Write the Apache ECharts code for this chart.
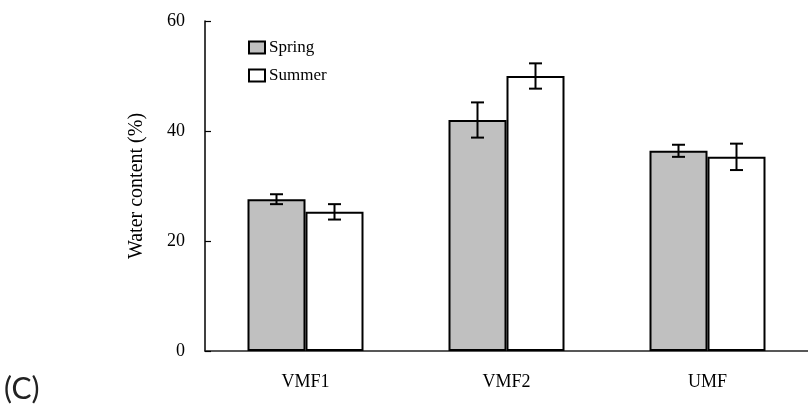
<!DOCTYPE html>
<html>
<head>
<meta charset="utf-8">
<script src="https://cdn.jsdelivr.net/npm/echarts@6/dist/echarts.min.js"></script>
<style>
  html, body { margin: 0; padding: 0; background: #fff; }
  #chart { width: 808px; height: 408px; }
</style>
</head>
<body>
<div id="chart"></div>
<script>
// Sites and seasonal water content (mean ± SE)
const categories = ['VMF1', 'VMF2', 'UMF'];
const seasons = ['Spring', 'Summer'];
const springValues = [27.6, 42.0, 36.4];
const springErrors = [0.9, 3.2, 1.1];
const summerValues = [25.3, 50.0, 35.3];
const summerErrors = [1.4, 2.3, 2.4];
const yTicks = [0, 20, 40, 60];

const BAR_W = 58;
const CAP_W = 13;
const SERIF = '"Liberation Serif", "Times New Roman", serif';

// rows: [category index, low, high, side (-1 left bar, +1 right bar)]
function errorRows(values, errors, side) {
  return values.map((v, i) => [i, v - errors[i], v + errors[i], side]);
}

function renderErrorBar(params, api) {
  const side = api.value(3);
  const lo = api.coord([api.value(0), api.value(1)]);
  const hi = api.coord([api.value(0), api.value(2)]);
  const x = lo[0] + side * BAR_W / 2;
  const style = { stroke: '#000', lineWidth: 2 };
  return {
    type: 'group',
    children: [
      { type: 'line', shape: { x1: x, y1: lo[1], x2: x, y2: hi[1] }, style },
      { type: 'line', shape: { x1: x - CAP_W / 2, y1: hi[1], x2: x + CAP_W / 2, y2: hi[1] }, style },
      { type: 'line', shape: { x1: x - CAP_W / 2, y1: lo[1], x2: x + CAP_W / 2, y2: lo[1] }, style }
    ]
  };
}

const chart = echarts.init(document.getElementById('chart'), null, { renderer: 'canvas' });

chart.setOption({
  backgroundColor: '#fff',
  animation: false,
  graphic: [{
    type: 'text',
    left: 4,
    top: 374,
    style: { text: '(C)', font: '400 30px Lato, "Open Sans", sans-serif', fill: '#222' }
  }],
  legend: {
    orient: 'vertical',
    left: 243,
    top: 34,
    itemWidth: 16,
    itemHeight: 12,
    itemGap: 11,
    selectedMode: false,
    data: seasons.map(s => ({ name: s, icon: 'rect' })),
    textStyle: { fontFamily: SERIF, fontSize: 17, color: '#000', padding: [0, 0, 0, -1] }
  },
  grid: { left: 205, top: 21, width: 611, height: 330, containLabel: false },
  xAxis: {
    type: 'category',
    data: categories,
    boundaryGap: true,
    axisLine: { lineStyle: { color: '#222', width: 1.5 } },
    axisTick: { inside: true, length: 4, lineStyle: { color: '#222', width: 1 } },
    axisLabel: { fontFamily: SERIF, fontSize: 18, color: '#000', margin: 22 },
    splitLine: { show: false }
  },
  yAxis: {
    type: 'value',
    min: yTicks[0],
    max: yTicks[yTicks.length - 1],
    interval: yTicks[1] - yTicks[0],
    name: 'Water content (%)',
    nameLocation: 'middle',
    nameGap: 58,
    nameRotate: 90,
    nameTextStyle: { fontFamily: SERIF, fontSize: 20, color: '#000' },
    axisLine: { show: true, lineStyle: { color: '#000', width: 1.5 } },
    axisTick: { show: true, inside: true, length: 6, lineStyle: { color: '#000', width: 1.2 } },
    axisLabel: { fontFamily: SERIF, fontSize: 18, color: '#000', margin: 20 },
    splitLine: { show: false }
  },
  series: [
    {
      name: seasons[0],
      type: 'bar',
      data: springValues,
      barWidth: BAR_W,
      barGap: '0%',
      itemStyle: { color: '#c0c0c0', borderColor: '#000', borderWidth: 2 }
    },
    {
      name: seasons[1],
      type: 'bar',
      data: summerValues,
      barWidth: BAR_W,
      barGap: '0%',
      itemStyle: { color: '#fff', borderColor: '#000', borderWidth: 2 }
    },
    {
      type: 'custom',
      renderItem: renderErrorBar,
      data: errorRows(springValues, springErrors, -1).concat(errorRows(summerValues, summerErrors, 1)),
      encode: { x: 0, y: [1, 2] },
      z: 10,
      silent: true
    }
  ]
});
</script>
</body>
</html>
